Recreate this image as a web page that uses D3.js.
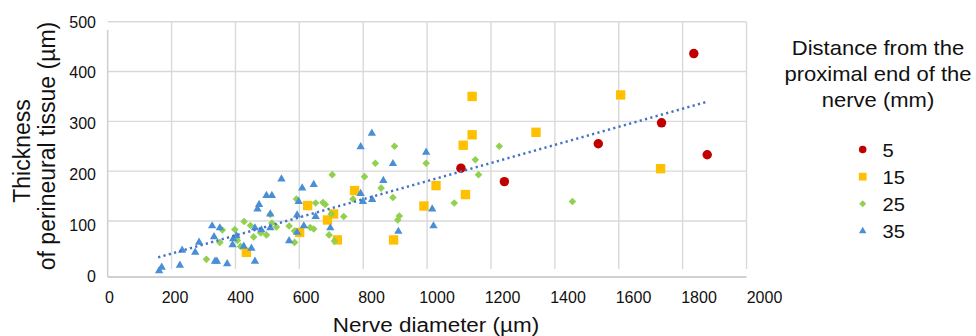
<!DOCTYPE html>
<html>
<head>
<meta charset="utf-8">
<script src="https://cdn.jsdelivr.net/npm/d3@7"></script>
<style>
  body { margin: 0; background: #fff; }
  text { font-family: "Liberation Sans", Arial, sans-serif; fill: #111; }
</style>
</head>
<body>
<div id="chart"></div>
<script>
// nerve diameter (um) vs thickness of perineural tissue (um), per distance group
var dist5X = [1106, 1242, 1536, 1734, 1835, 1877];
var dist5Y = [206, 179, 255, 297, 436, 233];

var dist15X = [1141, 1141, 1113, 1341, 1606, 1120, 1731, 773, 1028, 626, 707, 688, 990, 601, 719, 895, 434];
var dist15Y = [350, 273, 252, 278, 353, 153, 205, 161, 171, 131, 114, 102, 130, 77, 62, 62, 37];

var dist25X = [427, 447, 398, 359, 351, 457, 479, 497, 514, 528, 568, 585, 585, 309, 406, 416, 509,
  898, 838, 997, 1151, 1161, 703, 804, 856, 893, 768, 591, 651, 674, 681, 700, 739, 913, 908, 1085,
  634, 645, 693, 710, 1226, 1455];
var dist25Y = [99, 91, 83, 82, 57, 68, 76, 72, 96, 88, 90, 80, 57, 23, 61, 49, 113,
  250, 216, 216, 223, 193, 193, 189, 166, 147, 144, 144, 136, 137, 133, 114, 109, 110, 102, 136,
  87, 84, 72, 60, 250, 139];

var dist35X = [544, 497, 514, 474, 469, 509, 327, 351, 333, 286, 233, 274, 461, 481, 509, 393, 391,
  450, 426, 461, 568, 593, 169, 161, 226, 336, 342, 374, 403,
  827, 792, 893, 997, 609, 645, 863, 792, 799, 828, 598, 593, 651, 697, 614, 910, 1016, 1020];
var dist35Y = [184, 151, 151, 133, 124, 114, 90, 86, 68, 57, 41, 37, 86, 82, 86, 64, 52,
  45, 49, 19, 60, 77, 7, 0, 11, 19, 19, 14, 70,
  276, 249, 215, 238, 166, 173, 181, 155, 139, 143, 139, 112, 109, 86, 90, 79, 124, 90];

// linear trendline end points
var trendX = [158, 1880];
var trendY = [27, 340];

var xTicks = [0, 200, 400, 600, 800, 1000, 1200, 1400, 1600, 1800, 2000];
var yTicks = [0, 100, 200, 300, 400, 500];
var legendNames = ["5", "15", "25", "35"];
var legendTitle = ["Distance from the", "proximal end of the", "nerve (mm)"];

var width = 976, height = 336;

var svg = d3.select("#chart").append("svg")
  .attr("width", width).attr("height", height);

var x = d3.scaleLinear().domain([0, 2000]).range([107.7, 746.5]);
var y = d3.scaleLinear().domain([0, 500]).range([270.8, 21.7]);
// tick labels sit on a slightly wider spacing than the grid in the picture
var xLab = d3.scaleLinear().domain([0, 2000]).range([109, 764]);
var yLab = d3.scaleLinear().domain([0, 500]).range([276, 22]);

var gridColor = "#d9d9d9";

// grid
svg.append("g").selectAll("line")
  .data(xTicks.slice(1))
  .enter().append("line")
  .attr("x1", function(d) { return x(d); }).attr("x2", function(d) { return x(d); })
  .attr("y1", y(500)).attr("y2", 269)
  .attr("stroke", gridColor).attr("stroke-width", 1.4);

svg.append("g").selectAll("line")
  .data(yTicks.slice(1))
  .enter().append("line")
  .attr("x1", x(0)).attr("x2", x(2000))
  .attr("y1", function(d) { return y(d); }).attr("y2", function(d) { return y(d); })
  .attr("stroke", gridColor).attr("stroke-width", 1.4);

// axis lines
svg.append("line").attr("x1", x(0)).attr("x2", x(2000)).attr("y1", 277).attr("y2", 277)
  .attr("stroke", "#d0d0d0").attr("stroke-width", 2);
svg.append("line").attr("x1", x(0)).attr("x2", x(0)).attr("y1", 30).attr("y2", 277)
  .attr("stroke", "#d0d0d0").attr("stroke-width", 1.6);

// tick labels
var xAxis = svg.append("g").attr("transform", "translate(0,289)")
  .call(d3.axisBottom(xLab).tickValues(xTicks).tickSize(0).tickPadding(3).tickFormat(d3.format("d")));
var yAxis = svg.append("g").attr("transform", "translate(96,0)")
  .call(d3.axisLeft(yLab).tickValues(yTicks).tickSize(0).tickPadding(0).tickFormat(d3.format("d")));
[xAxis, yAxis].forEach(function(a) {
  a.select(".domain").remove();
  a.selectAll("text").attr("font-size", "16px").attr("fill", "#111")
    .attr("font-family", "Liberation Sans, Arial, sans-serif");
});

// points, later series on top
function toPts(xs, ys) {
  return xs.map(function(v, i) { return [v, ys[i]]; });
}

var series = [
  { pts: toPts(dist5X, dist5Y), type: d3.symbolCircle, size: 70, color: "#C00000", rot: 0, lsize: 44 },
  { pts: toPts(dist15X, dist15Y), type: d3.symbolSquare, size: 88, color: "#FFC000", rot: 0, lsize: 60 },
  { pts: toPts(dist25X, dist25Y), type: d3.symbolSquare, size: 29, color: "#92D050", rot: 45, lsize: 24 },
  { pts: toPts(dist35X, dist35Y), type: d3.symbolTriangle, size: 30, color: "#4A8FD5", rot: 0, lsize: 24 }
];

series.forEach(function(s) {
  svg.append("g").selectAll("path")
    .data(s.pts)
    .enter().append("path")
    .attr("d", d3.symbol().type(s.type).size(s.size))
    .attr("transform", function(d) {
      return "translate(" + x(d[0]) + "," + y(d[1]) + ") rotate(" + s.rot + ")";
    })
    .attr("fill", s.color);
});

// trendline
svg.append("line")
  .attr("x1", x(trendX[0])).attr("y1", y(trendY[0]))
  .attr("x2", x(trendX[1])).attr("y2", y(trendY[1]))
  .attr("stroke", "#4472C4").attr("stroke-width", 2.4)
  .attr("stroke-dasharray", "2.2 3.3");

// text with a little horizontal stretch like the picture
function label(tx, ty, s, str, size, anchor) {
  svg.append("text")
    .attr("transform", "translate(" + tx + "," + ty + ") scale(" + s + ",1)")
    .attr("font-size", size + "px")
    .attr("text-anchor", anchor)
    .text(str);
}

// axis titles
label(436, 332, 1.07, "Nerve diameter (µm)", 21, "middle");
svg.append("text").attr("transform", "translate(30,151) rotate(-90)")
  .attr("font-size", "23px").attr("text-anchor", "middle").text("Thickness");
svg.append("text").attr("transform", "translate(55,146) rotate(-90)")
  .attr("font-size", "23px").attr("text-anchor", "middle").text("of perineural tissue (µm)");

// legend
var legTitleY = d3.scaleLinear().domain([0, 2]).range([55, 107.3]);
legendTitle.forEach(function(t, i) {
  label(878, legTitleY(i), 1.1, t, 20, "middle");
});

var legY = d3.scaleLinear().domain([0, 3]).range([149.5, 231]);
series.forEach(function(s, i) {
  svg.append("path")
    .attr("d", d3.symbol().type(s.type).size(s.lsize))
    .attr("transform", "translate(862.7," + legY(i) + ") rotate(" + s.rot + ")")
    .attr("fill", s.color);
  label(882.5, legY(i) + 7, 1.12, legendNames[i], 18, "start");
});
</script>
</body>
</html>
